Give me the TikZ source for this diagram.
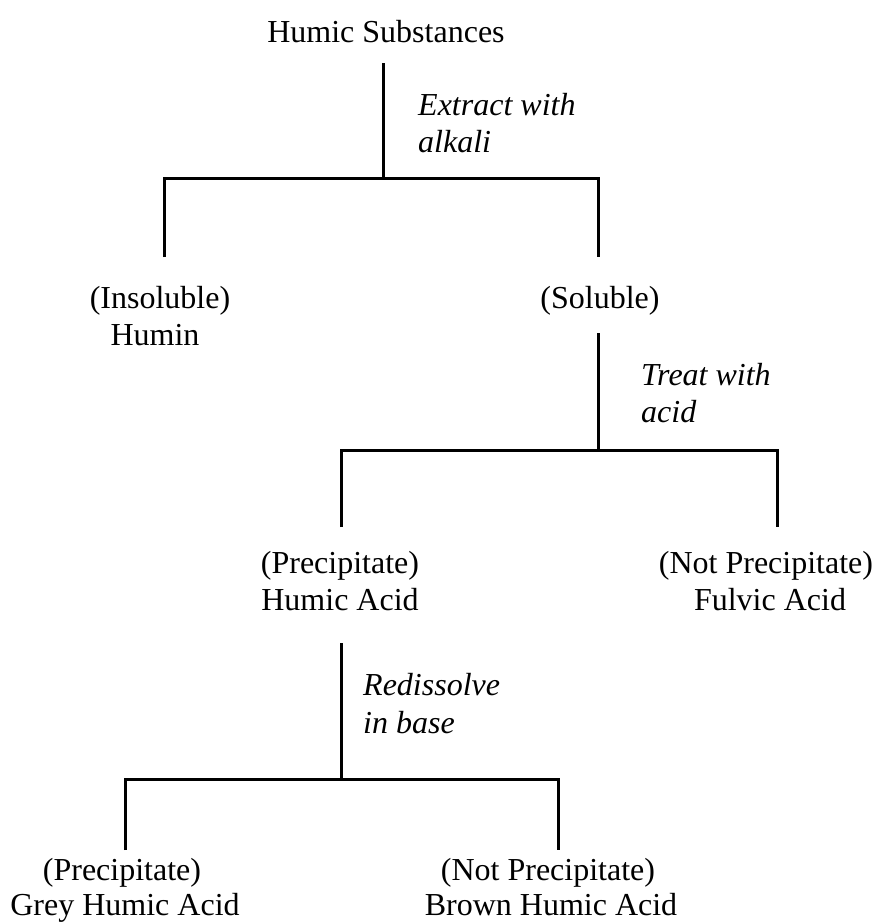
\documentclass[tikz,border=0pt]{standalone}
\usepackage{fontspec}
\setmainfont{Liberation Serif}
\begin{document}
\begin{tikzpicture}[x=1pt,y=-1pt,
  lbl/.style={inner sep=0pt,anchor=base,font=\fontsize{32}{37}\selectfont},
  act/.style={inner sep=0pt,anchor=base west,font=\fontsize{32}{37}\selectfont\itshape},
  conn/.style={line width=3pt,line cap=butt}]
\useasboundingbox[fill=white] (0,0) rectangle (877,924);
% texts
\node[lbl] (hs) at (386,42) {Humic Substances};
\node[act] (a1a) at (418,115) {Extract with};
\node[act] (a1b) at (418,152) {alkali};
\node[lbl] (ins) at (160,308) {(Insoluble)};
\node[lbl] (hum) at (155,345) {Humin};
\node[lbl] (sol) at (600,308) {(Soluble)};
\node[act] (a2a) at (641,385) {Treat with};
\node[act] (a2b) at (641,422) {acid};
\node[lbl] (pr1) at (340,573) {(Precipitate)};
\node[lbl] (ha) at (340,610) {Humic Acid};
\node[lbl] (np1) at (766,573) {(Not Precipitate)};
\node[lbl] (fa) at (770,610) {Fulvic Acid};
\node[act] (a3a) at (363,695) {Redissolve};
\node[act] (a3b) at (363,733) {in base};
\node[lbl] (pr2) at (122,880) {(Precipitate)};
\node[lbl] (gha) at (125,915) {Grey Humic Acid};
\node[lbl] (np2) at (548,880) {(Not Precipitate)};
\node[lbl] (bha) at (551,915) {Brown Humic Acid};
% connector points
\coordinate (t0) at (383,63);
\coordinate (j1) at (383,178);
\coordinate (l1) at (164,257);
\coordinate (r1) at (598,257);
\coordinate (t1) at (598,333);
\coordinate (j2) at (598,450);
\coordinate (l2) at (341,527);
\coordinate (r2) at (777,527);
\coordinate (t2) at (341,643);
\coordinate (j3) at (341,779);
\coordinate (l3) at (125,850);
\coordinate (r3) at (558,850);
% connectors
\draw[conn] (t0) -- (j1);
\draw[conn] (l1) |- (j1) -| (r1);
\draw[conn] (t1) -- (j2);
\draw[conn] (l2) |- (j2) -| (r2);
\draw[conn] (t2) -- (j3);
\draw[conn] (l3) |- (j3) -| (r3);
\end{tikzpicture}
\end{document}
